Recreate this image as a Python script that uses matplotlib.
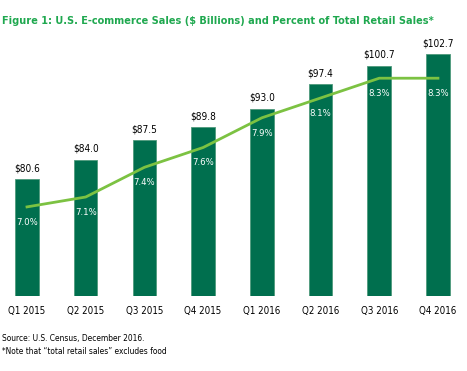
import matplotlib
matplotlib.use("Agg")
import matplotlib.pyplot as plt

quarters = ["Q1 2015", "Q2 2015", "Q3 2015", "Q4 2015",
            "Q1 2016", "Q2 2016", "Q3 2016", "Q4 2016"]
sales = [80.6, 84.0, 87.5, 89.8, 93.0, 97.4, 100.7, 102.7]
pct = [7.0, 7.1, 7.4, 7.6, 7.9, 8.1, 8.3, 8.3]

plt.rcParams['font.family'] = ['DejaVu Sans']
plt.rcParams['font.stretch'] = 'condensed'

bar_col = '#006f4e'
line_col = '#7cc242'
title_col = '#1fa84f'

fig = plt.figure(figsize=(4.67, 3.71), dpi=100)
ax = fig.add_axes([0, 75 / 371, 1, 266 / 371])
x = list(range(len(quarters)))
ax.bar(x, sales, width=0.4, color=bar_col, edgecolor='#4f9a7c', linewidth=0.6)
ax.set_ylim(60, 107.0)
ax.set_xlim(-0.46, 7.495)

for i, v in enumerate(sales):
    ax.annotate('$%.1f' % v, (i, v), xytext=(0, 4.5), textcoords='offset points',
                ha='center', va='bottom', fontsize=7.2, color='black')

ax2 = ax.twinx()
ax2.set_ylim(6.1, 8.787)
ax2.plot(x, pct, color=line_col, lw=2)
for i, p in enumerate(pct):
    ax2.annotate('%.1f%%' % p, (i, p), xytext=(0, -11), textcoords='offset points',
                 ha='center', va='center', fontsize=6.8, color='white')

for a in (ax, ax2):
    for s in a.spines.values():
        s.set_visible(False)
    a.set_yticks([])
ax.set_xticks(x)
ax.set_xticklabels(quarters, fontsize=7)
ax.tick_params(axis='x', length=0, pad=7)

fig.text(2 / 467, 1 - 21 / 371, 'Figure 1: U.S. E-commerce Sales ($ Billions) and Percent of Total Retail Sales*',
         fontsize=7.8, fontweight='bold', color=title_col, va='center', ha='left')
fig.text(2 / 467, 1 - 339 / 371, 'Source: U.S. Census, December 2016.', fontsize=6, va='center')
fig.text(2 / 467, 1 - 352 / 371, '*Note that \u201ctotal retail sales\u201d excludes food', fontsize=6, va='center')

fig.savefig('out.png', dpi=100)
